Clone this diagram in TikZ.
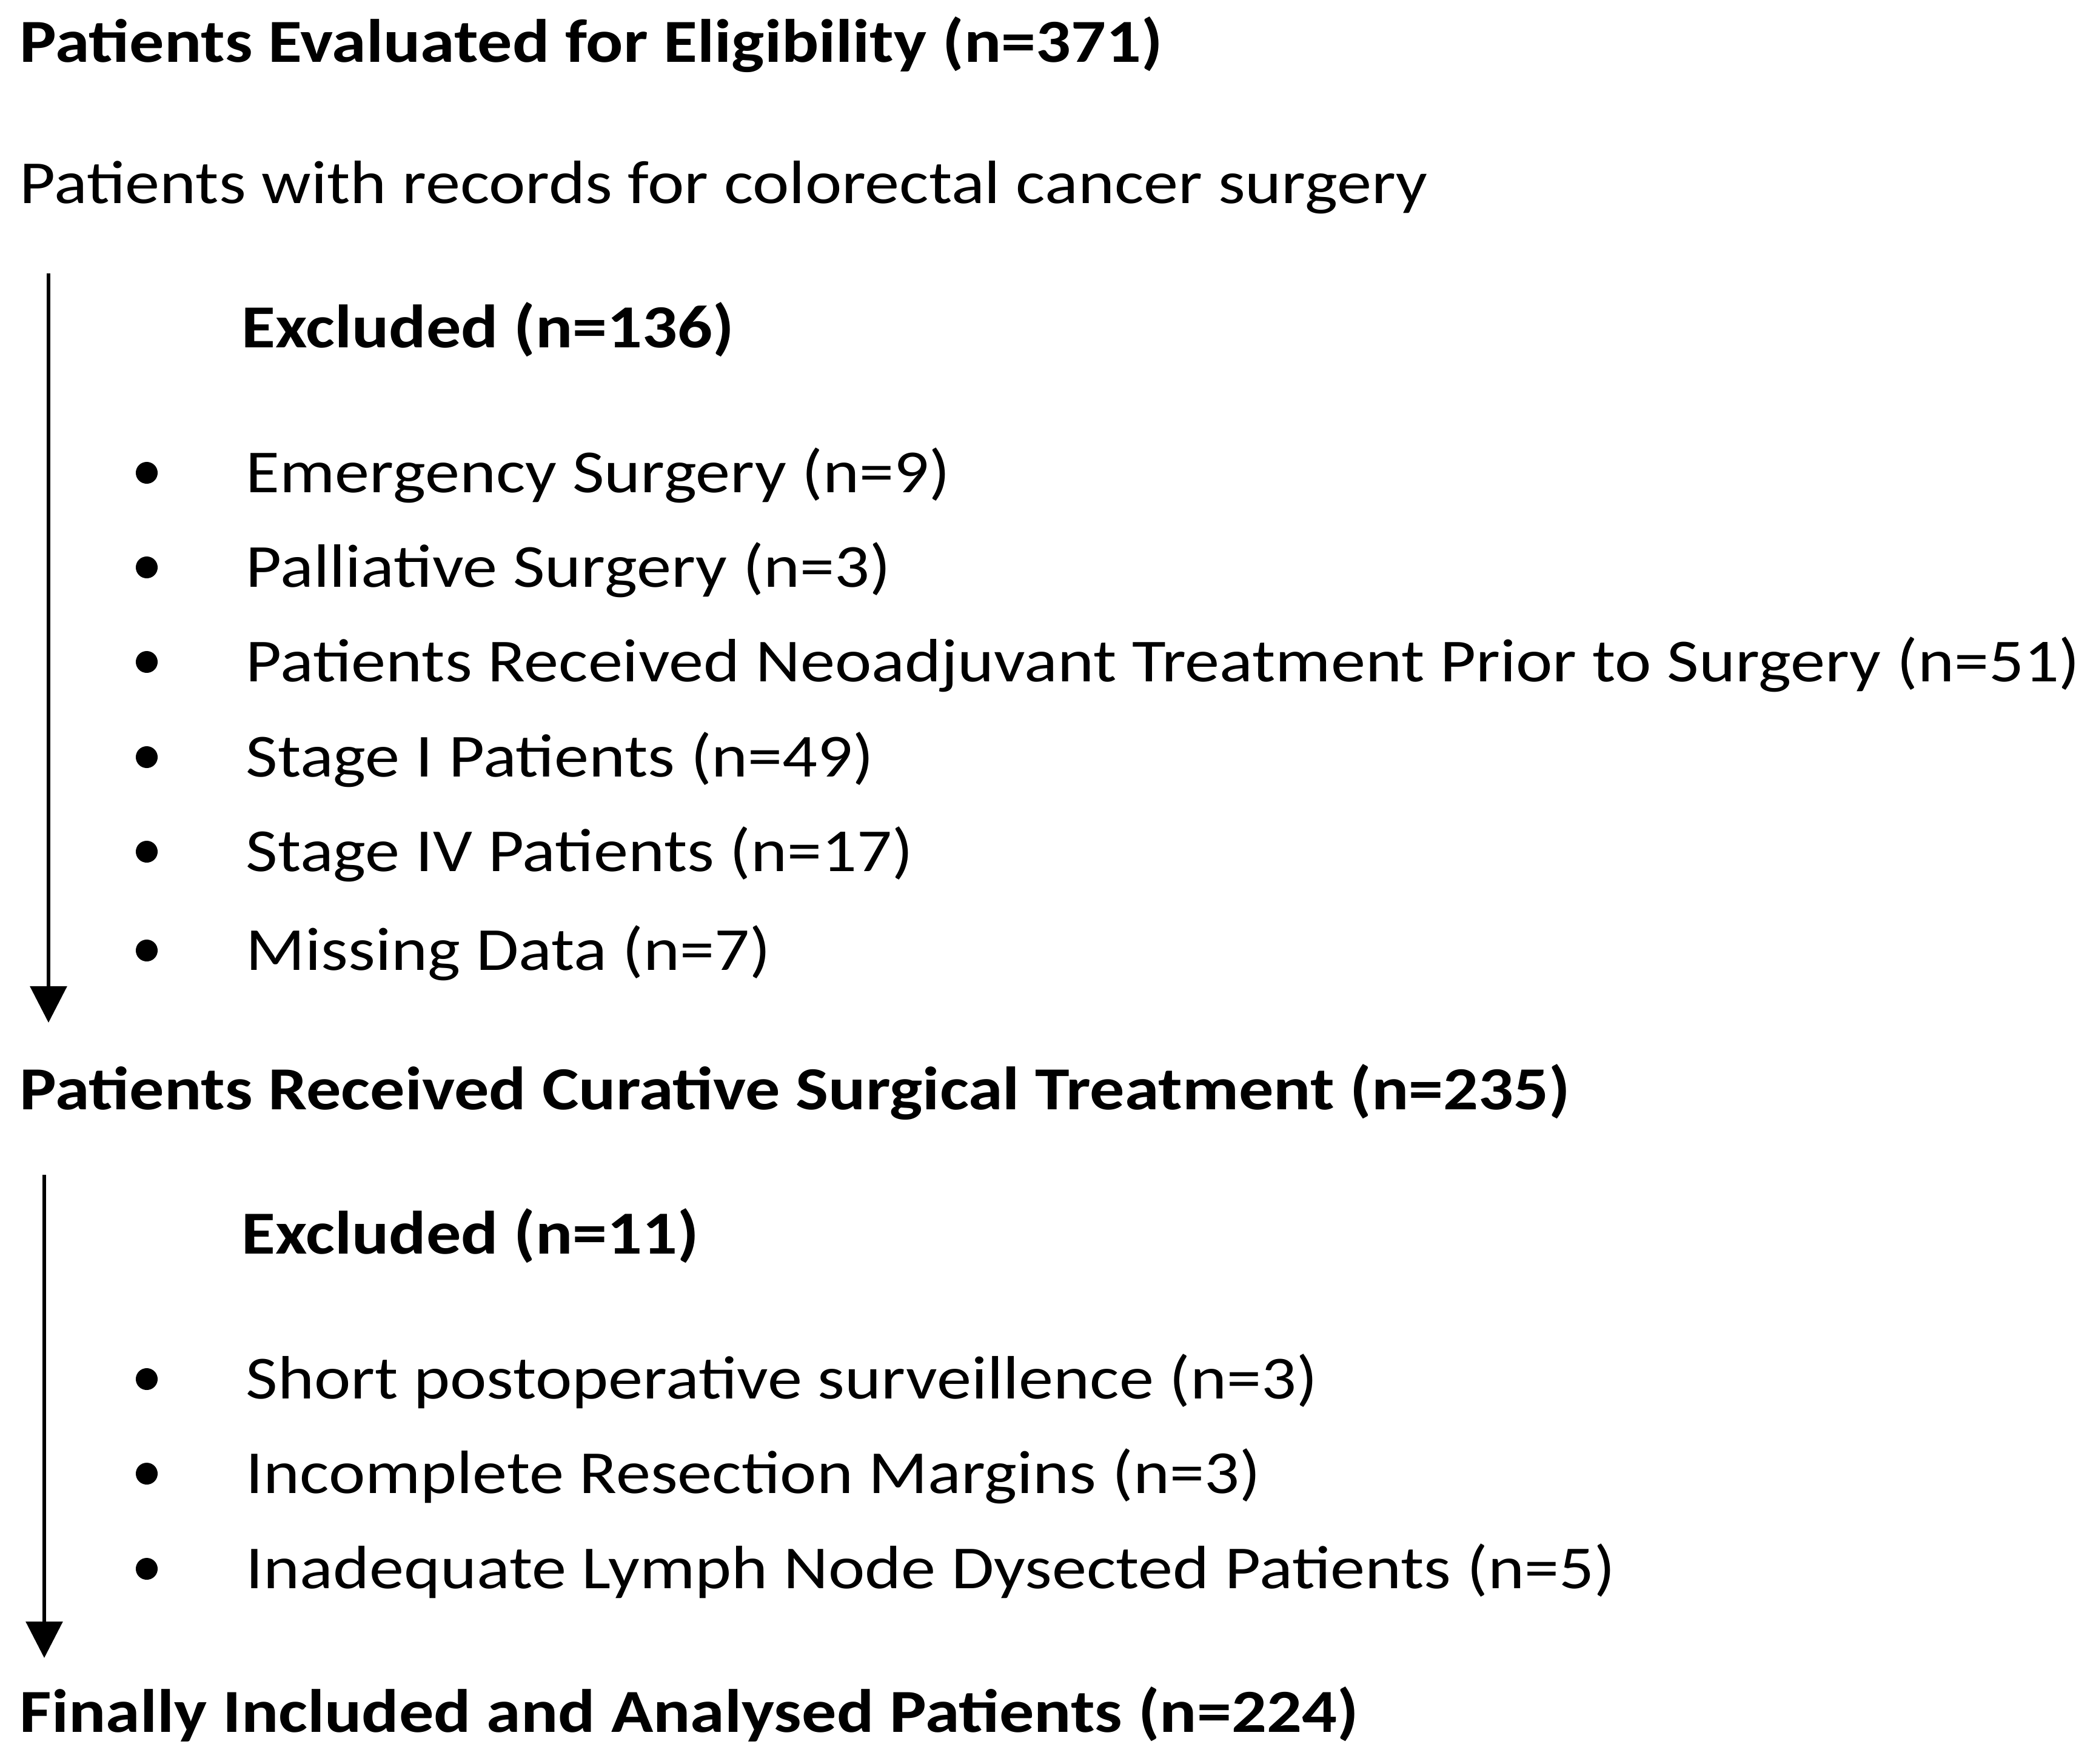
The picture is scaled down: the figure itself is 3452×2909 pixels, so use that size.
\documentclass[tikz,border=0pt]{standalone}
\usepackage{fontspec}
\setmainfont{Carlito}[FakeStretch=1.133]
\usetikzlibrary{arrows.meta}
\begin{document}
\begin{tikzpicture}[x=0.01cm,y=-0.01cm,
  txt/.style={anchor=base west,inner sep=0pt,font=\fontsize{28.7}{34}\selectfont},
  head/.style={txt,font=\fontsize{28.7}{34}\selectfont\bfseries},
  bul/.style={circle,fill=black,inner sep=0pt,minimum size=0.36cm},
  flow/.style={line width=0.06cm,-{Triangle[width=0.6cm,length=0.6cm]}}]
\useasboundingbox (0,0) rectangle (3452,2909);
\node[head] (t1) at (32,103) {Patients Evaluated for Eligibility (n=371)};
\node[txt] (t2) at (32,335) {Patients with records for colorectal cancer surgery};
\node[head] (ex1) at (398,573) {Excluded (n=136)};
\node[txt] (i1) at (405,812) {Emergency Surgery (n=9)};
\node[txt] (i2) at (405,968) {Palliative Surgery (n=3)};
\node[txt] (i3) at (405,1124) {Patients Received Neoadjuvant Treatment Prior to Surgery (n=51)};
\node[txt] (i4) at (405,1281) {Stage I Patients (n=49)};
\node[txt] (i5) at (405,1437) {Stage IV Patients (n=17)};
\node[txt] (i6) at (405,1600) {Missing Data (n=7)};
\foreach \y [count=\k] in {812,968,1124,1281,1437,1600}
  \node[bul] (b\k) at (242,\y-32) {};
\node[head] (t3) at (32,1830) {Patients Received Curative Surgical Treatment (n=235)};
\node[head] (ex2) at (398,2068) {Excluded (n=11)};
\node[txt] (j1) at (405,2307) {Short postoperative surveillence (n=3)};
\node[txt] (j2) at (405,2463) {Incomplete Resection Margins (n=3)};
\node[txt] (j3) at (405,2620) {Inadequate Lymph Node Dysected Patients (n=5)};
\foreach \y [count=\k] in {2307,2463,2620}
  \node[bul] (c\k) at (242,\y-32) {};
\node[head] (t4) at (32,2857) {Finally Included and Analysed Patients (n=224)};
\coordinate (a1s) at (80,451);
\coordinate (a1e) at (80,1687);
\coordinate (a2s) at (73,1938);
\coordinate (a2e) at (73,2735);
\draw[flow] (a1s) -- (a1e);
\draw[flow] (a2s) -- (a2e);
\end{tikzpicture}
\end{document}
